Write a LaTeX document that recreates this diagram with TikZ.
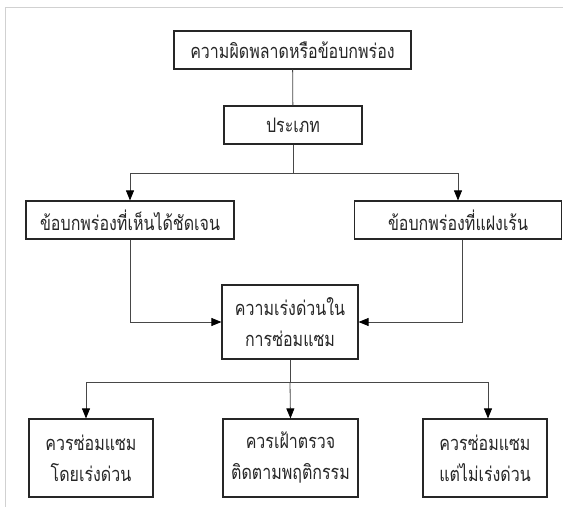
\documentclass[tikz,border=0pt]{standalone}
\usepackage{fontspec}
\newfontfamily\thaifont[Script=Thai,FakeStretch=0.8]{Loma}
\usetikzlibrary{arrows.meta}

\begin{document}
\begin{tikzpicture}[x=1pt,y=-1pt,
  box/.style={draw=black!85, line width=1.2pt, inner sep=0pt, align=center,
              text=black!85, font=\thaifont\fontsize{20}{31}\selectfont},
  link/.style={draw=black!72, line width=0.8pt},
  arr/.style={link, -{Triangle[length=10pt,width=8pt,color=black]}}]
\useasboundingbox (0,0) rectangle (563,511);
\fill[white] (0,0) rectangle (563,511);
% page frame
\draw[black!18, line width=0.8pt] (563,7) -- (5,7) -- (5,507);

% boxes
\node[box, minimum width=237pt, minimum height=38pt] (b1) at (292.5,50) {ความผิดพลาดหรือข้อบกพร่อง};
\node[box, minimum width=138pt, minimum height=38pt] (b2) at (293,125) {ประเภท};
\node[box, minimum width=208pt, minimum height=38pt] (b3) at (130,220) {ข้อบกพร่องที่เห็นได้ชัดเจน};
\node[box, minimum width=207pt, minimum height=38pt] (b4) at (458,220) {ข้อบกพร่องที่แฝงเร้น};
\node[box, minimum width=136pt, minimum height=74pt] (b5) at (290,322) {ความเร่งด่วนใน\\การซ่อมแซม};
\node[box, minimum width=124pt, minimum height=78pt] (b6) at (91,458) {ควรซ่อมแซม\\โดยเร่งด่วน};
\node[box, minimum width=135pt, minimum height=78pt] (b7) at (290.5,458) {ควรเฝ้าตรวจ\\ติดตามพฤติกรรม};
\node[box, minimum width=124pt, minimum height=78pt] (b8) at (485,458) {ควรซ่อมแซม\\แต่ไม่เร่งด่วน};

% junctions
\coordinate (j1) at (293,173);
\coordinate (j2) at (290,382);

% connectors
\draw[link] (b1) -- (b2);
\draw[link] (b2.south) -- (j1);
\draw[arr] (j1) -| (b3.north);
\draw[arr] (j1) -| (b4.north);
\draw[arr] (b3.south) |- (b5.west);
\draw[arr] ([xshift=4pt]b4.south) |- (b5.east);
\draw[link] (b5.south) -- (j2);
\draw[arr] (j2) -| ([xshift=-5pt]b6.north);
\draw[arr] (j2) -- (b7.north);
\draw[arr] (j2) -| ([xshift=3pt]b8.north);
\end{tikzpicture}
\end{document}
